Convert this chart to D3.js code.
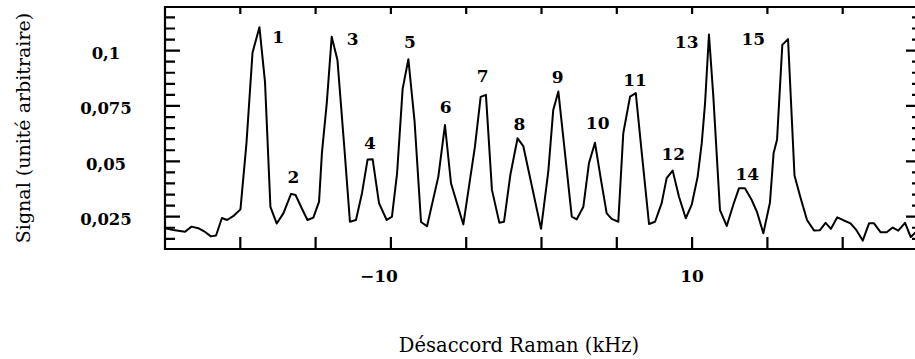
<!DOCTYPE html>
<html>
<head>
<meta charset="utf-8">
<script src="https://cdn.jsdelivr.net/npm/d3@7"></script>
<style>
  html, body { margin: 0; padding: 0; background: #fff; }
  svg { display: block; }
  text { font-family: "DejaVu Serif", serif; fill: #000; }
</style>
</head>
<body>
<svg id="chart" width="915" height="359"></svg>
<script>
// ---- data ----
const detuning = [-25.00,-24.45,-23.67,-23.24,-22.79,-22.34,-21.95,-21.61,-21.22,-20.88,
  -20.42,-19.99,-19.59,-19.19,-18.73,-18.36,-18.00,-17.58,-17.14,-16.63,
  -16.33,-15.92,-15.54,-15.15,-14.77,-14.58,-14.26,-13.93,-13.55,-13.08,
  -12.72,-12.32,-11.92,-11.55,-11.21,-10.79,-10.28,-9.93,-9.59,-9.22,
  -8.84,-8.43,-8.00,-7.60,-6.85,-6.41,-6.01,-5.19,-4.42,-4.04,
  -3.69,-3.29,-2.80,-2.49,-2.07,-1.59,-1.21,
  -0.03,0.45,0.78,1.12,1.56,2.01,2.34,2.78,3.15,3.55,
  3.95,4.33,4.66,5.10,5.43,5.88,6.26,6.65,7.14,7.54,
  7.98,8.31,8.71,9.13,9.58,9.97,10.37,10.64,10.86,11.12,
  11.41,11.85,12.30,12.74,13.11,13.51,13.96,14.31,14.73,15.17,
  15.41,15.64,15.99,16.37,16.80,17.20,17.63,18.09,18.49,18.86,
  19.22,19.64,20.04,20.52,20.90,21.33,21.75,22.08,22.51,22.92,
  23.32,23.69,24.14,24.52,24.87];

const signal = [0.0198,0.0190,0.0182,0.0205,0.0198,0.0181,0.0161,0.0165,0.0244,0.0235,
  0.0255,0.0283,0.0582,0.0990,0.1106,0.0859,0.0294,0.0219,0.0265,0.0353,
  0.0348,0.0288,0.0235,0.0246,0.0318,0.0538,0.0762,0.1063,0.0958,0.0551,
  0.0227,0.0235,0.0356,0.0508,0.0509,0.0311,0.0235,0.0250,0.0446,0.0827,
  0.0961,0.0682,0.0226,0.0207,0.0431,0.0664,0.0401,0.0215,0.0566,0.0791,
  0.0800,0.0371,0.0223,0.0227,0.0438,0.0604,0.0569,
  0.0195,0.0453,0.0732,0.0815,0.0536,0.0250,0.0238,0.0295,0.0491,0.0584,
  0.0416,0.0265,0.0240,0.0227,0.0627,0.0792,0.0808,0.0544,0.0217,0.0227,
  0.0311,0.0424,0.0458,0.0340,0.0243,0.0303,0.0431,0.0582,0.0762,0.1073,
  0.0792,0.0280,0.0208,0.0305,0.0378,0.0378,0.0325,0.0271,0.0175,0.0314,
  0.0536,0.0597,0.1026,0.1052,0.0436,0.0335,0.0235,0.0188,0.0189,0.0222,
  0.0195,0.0247,0.0234,0.0220,0.0190,0.0142,0.0220,0.0220,0.0180,0.0180,
  0.0201,0.0187,0.0222,0.0158,0.0181];

// peak annotations (data coordinates of the label centres)
const peakNames  = ["1","2","3","4","5","6","7","8","9","10","11","12","13","14","15"];
const peakLabelX = [-17.48,-16.48,-12.54,-11.39,-8.73,-6.36,-3.90,-1.47,1.08,3.73,6.21,8.75,9.64,13.67,14.06];
const peakLabelY = [0.1063,0.0428,0.1051,0.0584,0.1041,0.0744,0.0886,0.0669,0.0880,0.0672,0.0868,0.0533,0.1041,0.0443,0.1051];

const xMajorTicks = [-20,-15,-10,-5,0,5,10,15,20];
const xTickLabels = [-10, 10];
const yMajorTicks = [0.025,0.05,0.075,0.1];
const yMinorTicks = [0.015,0.02,0.03,0.035,0.04,0.045,0.055,0.06,0.065,0.07,0.08,0.085,0.09,0.095,0.105,0.11,0.115];
const xDomain = [-25, 25];
const yDomain = [0.0104, 0.1197];
const xTitle = "Désaccord Raman (kHz)";
const yTitle = "Signal (unité arbitraire)";

// ---- layout ----
const L = 165, R = 918, T = 7, B = 249;
const svg = d3.select("#chart");
const x = d3.scaleLinear().domain(xDomain).range([L, R]);
const y = d3.scaleLinear().domain(yDomain).range([B, T]);
const fr = d3.formatLocale({decimal: ",", thousands: " ", grouping: [3], currency: ["", " €"], minus: "\u2212"});
const yFmt = fr.format("~g");
const xFmt = fr.format("d");

svg.append("defs").append("clipPath").attr("id", "clip")
  .append("rect").attr("x", L).attr("y", T).attr("width", R - L).attr("height", B - T);

// frame and inward tick marks in one path
let frameD = `M${L},${T}H${R}V${B}H${L}Z`;
yMajorTicks.forEach(v => { frameD += `M${L},${y(v)}H${L + 15}M${R},${y(v)}H${R - 12}`; });
yMinorTicks.forEach(v => { frameD += `M${L},${y(v)}H${L + 10}M${R},${y(v)}H${R - 6}`; });
xMajorTicks.forEach(v => { frameD += `M${x(v)},${B}V${B - 12}M${x(v)},${T}V${T + 7}`; });
svg.append("path")
  .attr("d", frameD)
  .style("fill", "none").style("stroke", "#000").style("stroke-width", "2.2px");

// y tick labels
svg.append("g").selectAll("text").data(yMajorTicks).join("text")
  .attr("x", L - 59).attr("y", d => y(d) + 3)
  .attr("text-anchor", "middle").attr("dominant-baseline", "central")
  .style("font-size", "16.5px").style("font-weight", "bold")
  .text(d => yFmt(d));
// x tick labels
svg.append("g").selectAll("text").data(xTickLabels).join("text")
  .attr("x", d => x(d)).attr("dx", d => d < 0 ? -12 : 0).attr("y", B + 27)
  .attr("text-anchor", "middle").attr("dominant-baseline", "central")
  .style("font-size", "17px").style("font-weight", "bold")
  .text(d => xFmt(d));

// line
const pts = detuning.map((d, i) => [d, signal[i]]);
svg.append("path").datum(pts)
  .attr("clip-path", "url(#clip)")
  .style("fill", "none").style("stroke", "#000").style("stroke-width", "2px")
  .attr("stroke-linejoin", "round")
  .attr("d", d3.line().x(d => x(d[0])).y(d => y(d[1])));

// peak labels
svg.append("g").selectAll("text").data(peakNames).join("text")
  .attr("x", (d, i) => x(peakLabelX[i]))
  .attr("y", (d, i) => y(peakLabelY[i]))
  .attr("text-anchor", "middle").attr("dominant-baseline", "central")
  .style("font-size", "17px").style("font-weight", "bold")
  .text(d => d);

// axis titles
svg.append("text").attr("x", 519).attr("y", 345)
  .attr("text-anchor", "middle").attr("dominant-baseline", "central")
  .style("font-size", "19.5px").text(xTitle);
svg.append("text")
  .attr("transform", `translate(23,${(T + B) / 2}) rotate(-90)`)
  .attr("text-anchor", "middle").attr("dominant-baseline", "central")
  .style("font-size", "19px").text(yTitle);
</script>
</body>
</html>
